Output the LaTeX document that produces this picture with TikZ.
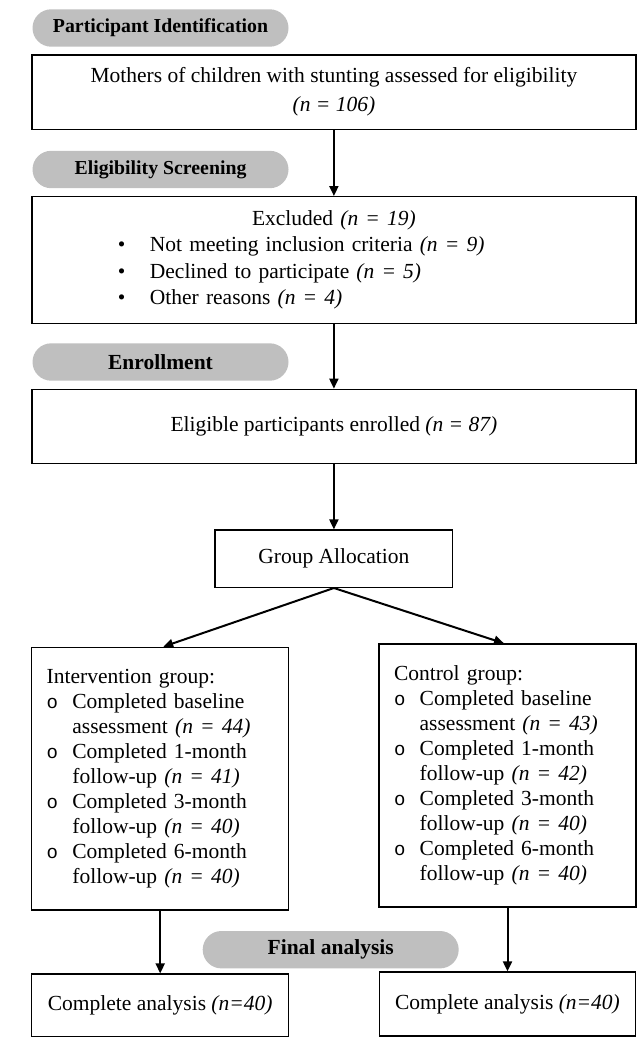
\documentclass[tikz,border=0pt]{standalone}
\usepackage{fontspec}
\setmainfont{Liberation Serif}
\newfontfamily\bulletfont{Liberation Mono}
\usetikzlibrary{arrows.meta}

\newcommand{\exitem}[1]{\makebox[590pt][l]{\hspace*{79pt}\makebox[32pt][l]{\textbullet}#1}}
\newcommand{\gitem}[2]{\makebox[25.7pt][l]{\bulletfont\fontsize{19}{25}\selectfont o}#1\\\hspace*{25.7pt}#2}

\begin{document}
\begin{tikzpicture}[x=1pt,y=-1pt]
        \useasboundingbox (0,0) rectangle (637,1042);

        \begin{scope}[every node/.style={fill=gray!50,rounded corners=18.7pt,minimum width=256pt,minimum height=37.4pt,inner sep=0pt,font=\bfseries\fontsize{19.8}{22}\selectfont}]
            \node (ident) at (160.5,28) {Participant Identification};
            \node (screen) at (160.5,169.5) {Eligibility Screening};
            \node[font=\bfseries\fontsize{21.5}{24}\selectfont] (enrol) at (160.5,362) {Enrollment};
            \node[font=\bfseries\fontsize{21.5}{24}\selectfont] (final) at (330.7,949.7) {Final analysis};
        \end{scope}

        \begin{scope}[every node/.style={draw,line width=1.3pt,inner sep=0pt,align=center,font=\fontsize{21.5}{29}\selectfont}]
            \node[minimum width=604pt,minimum height=74.3pt] (assess) at (333.9,92.2)
                {Mothers of children with stunting assessed for eligibility\\\textit{(n = 106)}};
            \node[minimum width=604pt,minimum height=126.7pt,text width=590pt,font=\fontsize{21.5}{26.4}\selectfont] (excl) at (333.9,260)
                {Excluded \textit{(n = 19)}\\
                 \exitem{Not meeting inclusion criteria \textit{(n = 9)}}\\
                 \exitem{Declined to participate \textit{(n = 5)}}\\
                 \exitem{Other reasons \textit{(n = 4)}}};
            \node[minimum width=604pt,minimum height=74pt] (enrolled) at (333.9,426.3)
                {Eligible participants enrolled \textit{(n = 87)}};
            \node[minimum width=237.6pt,minimum height=57.3pt] (alloc) at (333.9,558.7) {Group Allocation};
            \node[text width=227pt,inner xsep=15pt,align=left,minimum height=262.7pt,font=\fontsize{21.5}{25}\selectfont] (interv) at (160.2,778.7)
                {Intervention group:\\
                 \gitem{Completed baseline}{assessment \textit{(n = 44)}}\\
                 \gitem{Completed 1-month}{follow-up \textit{(n = 41)}}\\
                 \gitem{Completed 3-month}{follow-up \textit{(n = 40)}}\\
                 \gitem{Completed 6-month}{follow-up \textit{(n = 40)}}};
            \node[text width=227pt,inner xsep=15pt,align=left,minimum height=263pt,font=\fontsize{21.5}{25}\selectfont] (contr) at (507.5,775.5)
                {Control group:\\
                 \gitem{Completed baseline}{assessment \textit{(n = 43)}}\\
                 \gitem{Completed 1-month}{follow-up \textit{(n = 42)}}\\
                 \gitem{Completed 3-month}{follow-up \textit{(n = 40)}}\\
                 \gitem{Completed 6-month}{follow-up \textit{(n = 40)}}};
            \node[minimum width=257pt,minimum height=62.7pt] (analysisL) at (160.2,1005.4) {Complete analysis \textit{(n=40)}};
            \node[minimum width=256pt,minimum height=64pt] (analysisR) at (507.5,1004) {Complete analysis \textit{(n=40)}};
        \end{scope}

        \begin{scope}[every edge/.style={draw,line width=2pt,-{Triangle[length=10pt,width=9pt]}}]
            \path (assess) edge (excl);
            \path (excl) edge (enrolled);
            \path (enrolled) edge (alloc);
            \path (alloc.south) edge ([xshift=3pt]interv.north);
            \path (alloc.south) edge ([xshift=-3.5pt]contr.north);
            \path (interv) edge (analysisL);
            \path (contr) edge (analysisR);
        \end{scope}
    \end{tikzpicture}
\end{document}
